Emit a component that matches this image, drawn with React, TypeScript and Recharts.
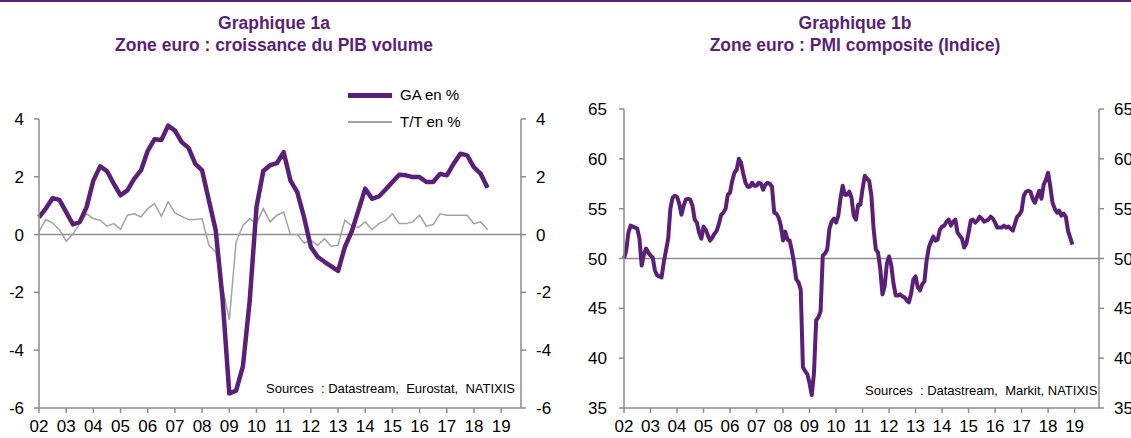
import { Line, LineChart, ReferenceLine, XAxis, YAxis } from 'recharts'

const PURPLE = '#5b1f78'
const GREY_LINE = '#a3a3a3'
const AXIS = '#8c8c8c'
const FONT = '"Liberation Sans", Arial, sans-serif'

const YEAR_TICKS = [
  2002, 2003, 2004, 2005, 2006, 2007, 2008, 2009, 2010, 2011, 2012, 2013, 2014, 2015, 2016,
  2017, 2018, 2019,
]
const GDP_TICKS = [-6, -4, -2, 0, 2, 4]
const PMI_TICKS = [35, 40, 45, 50, 55, 60, 65]

// PIB zone euro, trimestriel 2002T1 - 2018T3
const GA_EN_PCT = [
  0.6, 0.9, 1.26, 1.2,
  0.78, 0.35, 0.44, 0.95,
  1.87, 2.36, 2.2, 1.76,
  1.36, 1.53, 1.93, 2.22,
  2.9, 3.3, 3.27, 3.77,
  3.6, 3.2, 3.0, 2.45,
  2.22, 1.18, 0.15, -2.2,
  -5.5, -5.4, -4.56, -2.3,
  0.95, 2.2, 2.4, 2.47,
  2.85, 1.87, 1.47, 0.6,
  -0.43, -0.77, -0.94, -1.1,
  -1.26, -0.43, 0.1, 0.84,
  1.59, 1.24, 1.32, 1.56,
  1.82, 2.07, 2.05, 1.99,
  1.99, 1.82, 1.82, 2.1,
  2.05, 2.45, 2.8, 2.74,
  2.33, 2.1, 1.62,
]
const TT_EN_PCT = [
  0.1, 0.52, 0.4, 0.17,
  -0.23, 0.03, 0.38, 0.72,
  0.55, 0.5, 0.29, 0.38,
  0.18, 0.67, 0.72, 0.61,
  0.9, 1.07, 0.63, 1.13,
  0.75, 0.63, 0.52, 0.52,
  0.55, -0.37, -0.6, -1.8,
  -2.95, -0.25, 0.32, 0.55,
  0.38, 0.9, 0.44, 0.67,
  0.78, 0.0, 0.0, -0.29,
  -0.2, -0.37, -0.14, -0.4,
  -0.37, 0.5, 0.3, 0.25,
  0.44, 0.17, 0.38, 0.49,
  0.72, 0.38, 0.38, 0.44,
  0.67, 0.29, 0.35, 0.72,
  0.67, 0.67, 0.67, 0.67,
  0.38, 0.44, 0.17,
]

// PMI composite, mensuel janv. 2002 - déc. 2018
const PMI_COMPOSITE = [
  50.0, 50.8, 52.6, 53.3, 53.2, 53.1, 53.0, 52.0, 49.3, 50.4, 51.0, 50.6,
  50.3, 50.1, 48.8, 48.3, 48.2, 48.1, 49.6, 50.8, 52.0, 55.0, 56.1, 56.3,
  56.2, 55.5, 54.4, 55.3, 55.9, 56.0, 55.9, 55.3, 53.9, 53.6, 52.6, 52.0,
  53.2, 52.9, 52.3, 51.8, 52.1, 52.5, 52.8, 53.5, 54.4, 54.6, 55.0, 56.4,
  56.6, 57.8, 58.6, 58.9, 60.0, 59.6, 58.5, 57.6, 57.2, 57.2, 57.6, 57.3,
  57.3, 57.6, 57.5, 56.9, 57.4, 57.6, 57.5, 57.2, 54.6, 54.5, 54.1, 53.3,
  51.8, 52.7, 51.9, 51.8, 50.8, 49.5, 47.9, 47.6, 46.9, 39.1, 38.7, 38.4,
  37.5, 36.3, 38.5, 43.8, 44.1, 44.7, 50.3, 50.5, 50.9, 53.0, 53.7, 54.0,
  53.6, 54.3, 56.0, 57.3, 56.4, 56.4, 56.7, 56.1, 54.3, 53.9, 55.4, 55.4,
  57.0, 58.3, 58.0, 57.8, 56.3, 53.0, 50.9, 50.6, 49.0, 46.4, 47.2, 49.5,
  50.2, 49.3, 47.5, 46.3, 46.3, 46.4, 46.2, 46.1, 45.8, 45.6, 46.5, 47.9,
  48.2, 47.1, 46.8, 47.4, 47.7, 49.8, 51.1, 51.7, 52.2, 51.8, 51.9, 52.9,
  53.2, 53.3, 53.7, 53.9, 53.3, 53.7, 53.9, 52.6, 52.3, 52.0, 51.1, 51.5,
  52.6, 53.8, 53.9, 53.6, 53.8, 54.2, 54.0, 53.7, 53.8, 53.9, 54.2, 54.0,
  53.6, 53.1, 53.1, 53.1, 53.3, 53.1, 53.2, 53.0, 52.8, 53.5, 54.2, 54.4,
  54.8, 56.3, 56.7, 56.8, 56.7, 56.0, 55.6, 56.2, 56.8, 56.0, 57.4, 57.9,
  58.6, 57.2, 55.6, 55.0, 54.6, 54.8, 54.3, 54.5, 54.2, 52.8, 52.1, 51.4,
]

const gdpRows = GA_EN_PCT.map((ga, i) => ({ t: 2002 + i / 4, ga, tt: TT_EN_PCT[i] }))
const pmiRows = PMI_COMPOSITE.map((pmi, i) => ({ t: 2002 + i / 12, pmi }))

const yearLabel = (y: number) => String(y).slice(2)
const tickStyle = { fill: '#000', fontSize: 17, fontFamily: FONT }
const axisLine = { stroke: AXIS, strokeWidth: 1.5 }

function Title({ center, lines }: { center: number; lines: string[] }) {
  return (
    <div
      style={{
        position: 'absolute',
        left: center - 250,
        top: 12,
        width: 500,
        textAlign: 'center',
        color: PURPLE,
        fontWeight: 'bold',
        fontSize: 17.5,
        lineHeight: '22px',
      }}
    >
      {lines.map((l) => (
        <div key={l}>{l}</div>
      ))}
    </div>
  )
}

function Sources({ left, top, text }: { left: number; top: number; text: string }) {
  return (
    <div style={{ position: 'absolute', left, top, fontSize: 13, color: '#000', whiteSpace: 'pre' }}>
      {text}
    </div>
  )
}

export default function App() {
  return (
    <div
      style={{
        position: 'absolute',
        left: 0,
        top: 0,
        width: 1131,
        height: 438,
        background: '#fff',
        fontFamily: FONT,
        overflow: 'hidden',
      }}
    >
      <div style={{ position: 'absolute', left: 0, top: 0, width: 1131, height: 2, background: PURPLE }} />
      <Title center={274} lines={['Graphique 1a', 'Zone euro : croissance du PIB volume']} />
      <Title center={855} lines={['Graphique 1b', 'Zone euro : PMI composite (Indice)']} />

      <div style={{ position: 'absolute', left: 0, top: 0 }}>
        <LineChart width={565} height={438} data={gdpRows} margin={{ top: 119, right: 4, bottom: 0, left: 0 }}>
          <XAxis
            type="number"
            dataKey="t"
            domain={[2002, 2019.73]}
            ticks={YEAR_TICKS}
            tickFormatter={yearLabel}
            height={30}
            axisLine={axisLine}
            tickLine={axisLine}
            tickSize={5}
            tickMargin={7}
            tick={tickStyle}
            interval={0}
          />
          <YAxis
            yAxisId="l"
            domain={[-6, 4]}
            ticks={GDP_TICKS}
            width={39}
            axisLine={axisLine}
            tickLine={axisLine}
            tickSize={5}
            tickMargin={10}
            tick={tickStyle}
            interval={0}
          />
          <YAxis
            yAxisId="r"
            orientation="right"
            domain={[-6, 4]}
            ticks={GDP_TICKS}
            width={40}
            axisLine={axisLine}
            tickLine={axisLine}
            tickSize={5}
            tickMargin={10}
            tick={tickStyle}
            interval={0}
          />
          <ReferenceLine yAxisId="l" y={0} stroke={AXIS} strokeWidth={1.5} />
          {/* série invisible pour activer l'axe de droite */}
          <Line
            yAxisId="r"
            dataKey="ga"
            stroke="none"
            dot={false}
            activeDot={false}
            legendType="none"
            isAnimationActive={false}
          />
          <Line
            yAxisId="l"
            type="linear"
            dataKey="tt"
            stroke={GREY_LINE}
            strokeWidth={1.5}
            dot={false}
            isAnimationActive={false}
          />
          <Line
            yAxisId="l"
            type="linear"
            dataKey="ga"
            stroke={PURPLE}
            strokeWidth={4.5}
            strokeLinejoin="round"
            dot={false}
            isAnimationActive={false}
          />
        </LineChart>
      </div>

      {/* légende graphique 1a */}
      <div style={{ position: 'absolute', left: 348, top: 93, width: 44, height: 5, background: PURPLE }} />
      <div style={{ position: 'absolute', left: 400, top: 86, fontSize: 15 }}>GA en %</div>
      <div style={{ position: 'absolute', left: 348, top: 121, width: 44, height: 1.5, background: GREY_LINE }} />
      <div style={{ position: 'absolute', left: 400, top: 113, fontSize: 15 }}>T/T en %</div>
      <Sources left={266} top={381} text={'Sources  : Datastream,  Eurostat,  NATIXIS'} />

      <div style={{ position: 'absolute', left: 570, top: 0 }}>
        <LineChart width={561} height={438} data={pmiRows} margin={{ top: 109, right: 0, bottom: 0, left: 0 }}>
          <XAxis
            type="number"
            dataKey="t"
            domain={[2002, 2019.92]}
            ticks={YEAR_TICKS}
            tickFormatter={yearLabel}
            height={30}
            axisLine={axisLine}
            tickLine={axisLine}
            tickSize={5}
            tickMargin={7}
            tick={tickStyle}
            interval={0}
          />
          <YAxis
            yAxisId="l"
            domain={[35, 65]}
            ticks={PMI_TICKS}
            width={54}
            axisLine={axisLine}
            tickLine={axisLine}
            tickSize={5}
            tickMargin={12}
            tick={tickStyle}
            interval={0}
          />
          <YAxis
            yAxisId="r"
            orientation="right"
            domain={[35, 65]}
            ticks={PMI_TICKS}
            width={32}
            axisLine={axisLine}
            tickLine={axisLine}
            tickSize={5}
            tickMargin={10}
            tick={tickStyle}
            interval={0}
          />
          <ReferenceLine yAxisId="l" y={50} stroke={AXIS} strokeWidth={1.5} />
          <Line
            yAxisId="r"
            dataKey="pmi"
            stroke="none"
            dot={false}
            activeDot={false}
            legendType="none"
            isAnimationActive={false}
          />
          <Line
            yAxisId="l"
            type="linear"
            dataKey="pmi"
            stroke={PURPLE}
            strokeWidth={4}
            strokeLinejoin="round"
            dot={false}
            isAnimationActive={false}
          />
        </LineChart>
      </div>
      <Sources left={865} top={383} text={'Sources  : Datastream,  Markit, NATIXIS'} />
    </div>
  )
}
